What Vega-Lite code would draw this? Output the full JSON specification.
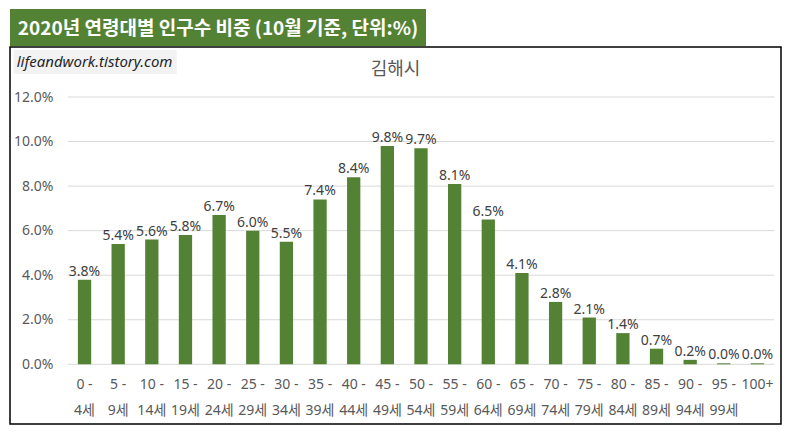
{
  "$schema": "https://vega.github.io/schema/vega-lite/v6.json",
  "background": "white",
  "padding": {"left": 9, "top": 9, "right": 8, "bottom": 9},
  "spacing": 1,
  "bounds": "flush",
  "resolve": {"scale": {"color": "independent"}, "legend": {"color": "independent"}},
  "config": {
    "view": {"stroke": null},
    "font": "Noto Sans, Noto Sans CJK KR, sans-serif"
  },
  "vconcat": [
    {
      "width": 416,
      "height": 37,
      "view": {"fill": "#548235", "stroke": null},
      "data": {"values": [{"label": "2020년 연령대별 인구수 비중 (10월 기준, 단위:%)"}]},
      "mark": {"type": "text", "color": "white", "fontWeight": "bold", "fontSize": 19, "font": "Noto Sans CJK KR", "dy": 1},
      "encoding": {"text": {"field": "label"}}
    },
    {
      "width": 771,
      "height": 377,
      "view": {"fill": "white", "stroke": "#000000", "strokeWidth": 1.5},
      "title": {
        "text": "김해시",
        "font": "Noto Sans CJK KR",
        "fontSize": 18,
        "fontWeight": "normal",
        "color": "#595959",
        "anchor": "middle",
        "frame": "group",
        "baseline": "middle",
        "offset": -41
      },
      "data": {
        "values": [
          {"cat": "0 -|4세", "v": 0.038},
          {"cat": "5 -|9세", "v": 0.054},
          {"cat": "10 -|14세", "v": 0.056},
          {"cat": "15 -|19세", "v": 0.058},
          {"cat": "20 -|24세", "v": 0.067},
          {"cat": "25 -|29세", "v": 0.060},
          {"cat": "30 -|34세", "v": 0.055},
          {"cat": "35 -|39세", "v": 0.074},
          {"cat": "40 -|44세", "v": 0.084},
          {"cat": "45 -|49세", "v": 0.098},
          {"cat": "50 -|54세", "v": 0.097},
          {"cat": "55 -|59세", "v": 0.081},
          {"cat": "60 -|64세", "v": 0.065},
          {"cat": "65 -|69세", "v": 0.041},
          {"cat": "70 -|74세", "v": 0.028},
          {"cat": "75 -|79세", "v": 0.021},
          {"cat": "80 -|84세", "v": 0.014},
          {"cat": "85 -|89세", "v": 0.007},
          {"cat": "90 -|94세", "v": 0.002},
          {"cat": "95 -|99세", "v": 0.00045},
          {"cat": "100+", "v": 0.00045}
        ]
      },
      "encoding": {
        "x": {
          "field": "cat",
          "type": "nominal",
          "scale": {
            "domain": ["0 -|4세", "5 -|9세", "10 -|14세", "15 -|19세", "20 -|24세", "25 -|29세", "30 -|34세", "35 -|39세", "40 -|44세", "45 -|49세", "50 -|54세", "55 -|59세", "60 -|64세", "65 -|69세", "70 -|74세", "75 -|79세", "80 -|84세", "85 -|89세", "90 -|94세", "95 -|99세", "100+"],
            "paddingInner": 0,
            "paddingOuter": 0.957,
            "align": 0.896
          },
          "axis": {
            "orient": "bottom",
            "offset": -59.7,
            "domain": false,
            "ticks": false,
            "grid": false,
            "title": null,
            "labelAngle": 0,
            "labelPadding": 13,
            "labelLineHeight": 26,
            "labelFontSize": 14,
            "labelColor": "#595959",
            "labelExpr": "split(datum.label, '|')"
          }
        },
        "y": {
          "field": "v",
          "type": "quantitative",
          "scale": {"domain": [-0.0268, 0.14245], "nice": false, "zero": false},
          "axis": {
            "orient": "left",
            "offset": -43,
            "domain": false,
            "ticks": false,
            "grid": false,
            "title": null,
            "labelPadding": 0,
            "values": [0, 0.02, 0.04, 0.06, 0.08, 0.1, 0.12],
            "format": ".1%",
            "labelFontSize": 14,
            "labelColor": "#595959"
          }
        }
      },
      "layer": [
        {
          "data": {"values": [{"v": 0}, {"v": 0.02}, {"v": 0.04}, {"v": 0.06}, {"v": 0.08}, {"v": 0.1}, {"v": 0.12}]},
          "mark": {"type": "rule", "color": "#d9d9d9", "strokeWidth": 1},
          "encoding": {
            "x": {"datum": "0 -|4세", "type": "nominal", "bandPosition": 0},
            "x2": {"datum": "100+", "bandPosition": 1}
          }
        },
        {
          "mark": {"type": "bar", "color": "#548235", "width": {"band": 0.395}},
          "encoding": {"y2": {"datum": 0}}
        },
        {
          "mark": {"type": "text", "fontSize": 14, "color": "#404040", "baseline": "alphabetic", "dy": -4},
          "encoding": {"text": {"field": "v", "type": "quantitative", "format": ".1%"}}
        },
        {
          "data": {"values": [{"site": "lifeandwork.tistory.com"}]},
          "mark": {"type": "point", "opacity": 0},
          "encoding": {
            "x": null,
            "y": null,
            "color": {
              "field": "site",
              "type": "nominal",
              "scale": {"range": ["#f2f2f2"]},
              "legend": {
                "orient": "none",
                "legendX": 3.7,
                "legendY": 3,
                "title": null,
                "fillColor": "#f2f2f2",
                "padding": 4,
                "symbolSize": 0,
                "symbolOpacity": 0,
                "symbolStrokeWidth": 0,
                "labelOffset": -16,
                "labelFont": "Noto Sans",
                "labelFontSize": 15,
                "labelFontStyle": "italic",
                "labelColor": "#262626",
                "labelLimit": 300
              }
            }
          }
        }
      ]
    }
  ]
}
